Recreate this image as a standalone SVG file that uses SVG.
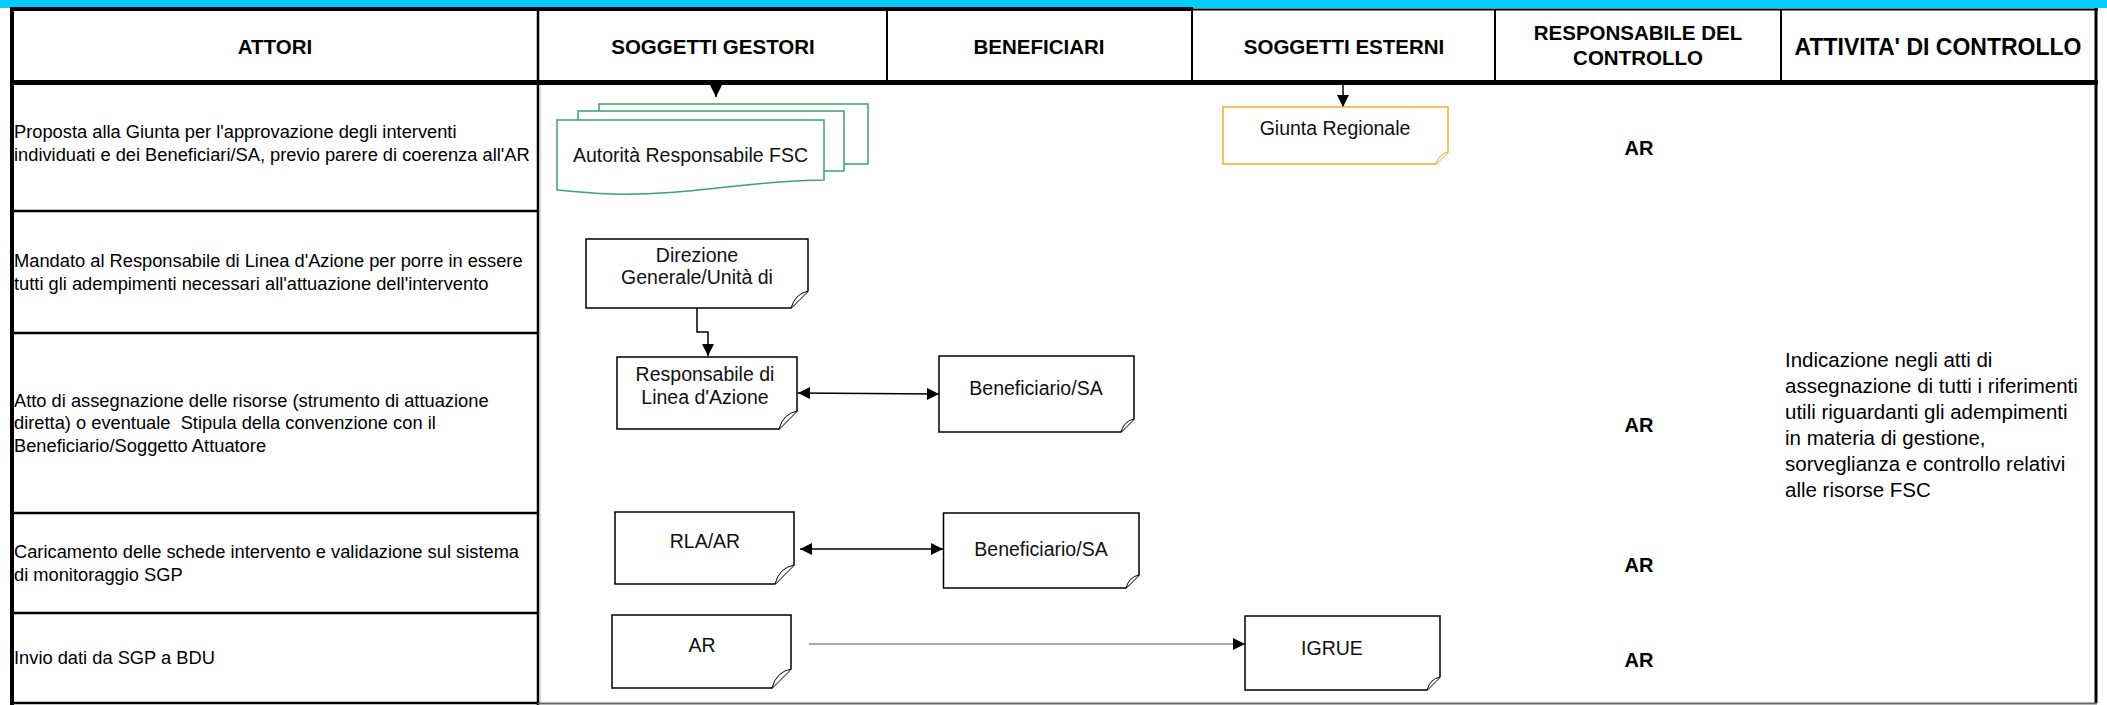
<svg xmlns="http://www.w3.org/2000/svg" width="2107" height="705" viewBox="0 0 2107 705">
<style>
.t{font-family:"Liberation Sans",Arial,sans-serif;fill:#000}
.lbl{font-size:18.3px}
.hdr{font-size:20.5px;font-weight:bold;text-anchor:middle}
.ar{font-size:20px;font-weight:bold;text-anchor:middle}
.ctl{font-size:20.5px}
.nt{font-size:19.5px;text-anchor:middle;fill:#111}
.box{fill:#fff;stroke:#000;stroke-width:1.5}
.fold{fill:#fff;stroke:#000;stroke-width:1}
.grid{stroke:#000;fill:none}
.con{fill:none;stroke:#000;stroke-width:1.5}
</style>
<defs>
<marker id="ah" viewBox="0 0 12 12" refX="12" refY="6" markerWidth="12" markerHeight="12" markerUnits="userSpaceOnUse" orient="auto-start-reverse">
<path d="M0,0 L12,6 L0,12 Z" fill="#000"/>
</marker>
</defs>
<rect width="2107" height="705" fill="#fff"/>
<g id="table">
<rect x="0" y="0" width="2107" height="8" fill="#00CCFF"/>
<line class="grid" x1="10" y1="9" x2="1193" y2="9" stroke-width="4"/>
<line class="grid" x1="1193" y1="9.5" x2="2098" y2="9.5" stroke-width="2"/>
<line class="grid" x1="10" y1="82.5" x2="2098" y2="82.5" stroke-width="5"/>
<line class="grid" x1="12" y1="7" x2="12" y2="705" stroke-width="4"/>
<line class="grid" x1="2096" y1="8" x2="2096" y2="703" stroke-width="3"/>
<line class="grid" x1="538" y1="10" x2="538" y2="705" stroke-width="2.5"/>
<line class="grid" x1="887" y1="10" x2="887" y2="81" stroke-width="2"/>
<line class="grid" x1="1192" y1="10" x2="1192" y2="81" stroke-width="2"/>
<line class="grid" x1="1495" y1="10" x2="1495" y2="81" stroke-width="2"/>
<line class="grid" x1="1781" y1="10" x2="1781" y2="81" stroke-width="2"/>
<line class="grid" x1="12" y1="211" x2="538" y2="211" stroke-width="2.5"/>
<line class="grid" x1="12" y1="333" x2="538" y2="333" stroke-width="2.5"/>
<line class="grid" x1="12" y1="513" x2="538" y2="513" stroke-width="2.5"/>
<line class="grid" x1="12" y1="613" x2="538" y2="613" stroke-width="2.5"/>
<line x1="540" y1="85" x2="540" y2="703" stroke="#c8c8c8" stroke-width="1.5"/>
<line class="grid" x1="12" y1="703" x2="538" y2="703" stroke-width="2.5"/>
<line x1="538" y1="703.5" x2="2097" y2="703.5" stroke="#666" stroke-width="2"/>
<text class="t hdr" x="275" y="53.8">ATTORI</text>
<text class="t hdr" x="713" y="53.8">SOGGETTI GESTORI</text>
<text class="t hdr" x="1039" y="53.8">BENEFICIARI</text>
<text class="t hdr" x="1344" y="53.8">SOGGETTI ESTERNI</text>
<text class="t hdr" x="1638" y="40.2">RESPONSABILE DEL</text>
<text class="t hdr" x="1638" y="64.7">CONTROLLO</text>
<text class="t hdr" x="1938" y="54.7" style="font-size:23px">ATTIVITA' DI CONTROLLO</text>
<text class="t lbl" x="14" y="138.2">Proposta alla Giunta per l'approvazione degli interventi</text>
<text class="t lbl" x="14" y="160.7">individuati e dei Beneficiari/SA, previo parere di coerenza all'AR</text>
<text class="t lbl" x="14" y="267.2">Mandato al Responsabile di Linea d'Azione per porre in essere</text>
<text class="t lbl" x="14" y="289.7">tutti gli adempimenti necessari all'attuazione dell'intervento</text>
<text class="t lbl" x="14" y="406.9">Atto di assegnazione delle risorse (strumento di attuazione</text>
<text class="t lbl" x="14" y="429.4" xml:space="preserve">diretta) o eventuale  Stipula della convenzione con il</text>
<text class="t lbl" x="14" y="451.9">Beneficiario/Soggetto Attuatore</text>
<text class="t lbl" x="14" y="558.2">Caricamento delle schede intervento e validazione sul sistema</text>
<text class="t lbl" x="14" y="580.7">di monitoraggio SGP</text>
<text class="t lbl" x="14" y="664.4">Invio dati da SGP a BDU</text>
<text class="t ar" x="1639" y="155.2">AR</text>
<text class="t ar" x="1639" y="432.2">AR</text>
<text class="t ar" x="1639" y="571.7">AR</text>
<text class="t ar" x="1639" y="667.2">AR</text>
<text class="t ctl" x="1785" y="367.2">Indicazione negli atti di</text>
<text class="t ctl" x="1785" y="393.2">assegnazione di tutti i riferimenti</text>
<text class="t ctl" x="1785" y="419.2">utili riguardanti gli adempimenti</text>
<text class="t ctl" x="1785" y="445.2">in materia di gestione,</text>
<text class="t ctl" x="1785" y="471.2">sorveglianza e controllo relativi</text>
<text class="t ctl" x="1785" y="497.2">alle risorse FSC</text>
</g>
<g id="connectors">
<line class="con" x1="716" y1="84" x2="716" y2="97" marker-end="url(#ah)"/>
<line class="con" x1="1343" y1="84" x2="1343" y2="107" marker-end="url(#ah)"/>
<path class="con" d="M697,308 V332 H708 V356" marker-end="url(#ah)"/>
<line class="con" x1="798" y1="393" x2="939" y2="394" marker-start="url(#ah)" marker-end="url(#ah)"/>
<line class="con" x1="800" y1="549" x2="943" y2="549" marker-start="url(#ah)" marker-end="url(#ah)"/>
<line x1="809" y1="644" x2="1245" y2="644" stroke="#555" stroke-width="1.2" marker-end="url(#ah)"/>
</g>
<g id="n-autorita">
<rect x="599" y="104" width="269" height="60" fill="#fff" stroke="#3BA36B" stroke-width="1.5"/>
<rect x="578" y="111" width="266" height="60" fill="#fff" stroke="#3BA36B" stroke-width="1.5"/>
<path d="M557,120 H824 V180 C740,181 690,196 612,194 C585,193 567,191 557,190 Z" fill="#fff" stroke="#3BA36B" stroke-width="1.5"/>
<text class="t nt" x="690.5" y="161.8">Autorità Responsabile FSC</text>
</g>
<g id="n-giunta">
<path d="M1223,107 H1448 V152 L1436,164 H1223 Z" fill="#fff" stroke="#F8A830" stroke-width="1.5"/>
<path d="M1436,164 Q1439,154 1448,152" fill="#fff" stroke="#F8A830" stroke-width="1"/>
<text class="t nt" x="1335" y="134.8">Giunta Regionale</text>
</g>
<g id="n-direzione">
<path class="box" d="M586,239 H808 V291 L791,308 H586 Z"/>
<path class="fold" d="M791,308 Q795,294 808,291"/>
<text class="t nt" x="697" y="261.8">Direzione</text>
<text class="t nt" x="697" y="283.8">Generale/Unità di</text>
</g>
<g id="n-rla">
<path class="box" d="M617,357 H797 V411 L779,429 H617 Z"/>
<path class="fold" d="M779,429 Q783,414 797,411"/>
<text class="t nt" x="705" y="380.8">Responsabile di</text>
<text class="t nt" x="705" y="403.8">Linea d'Azione</text>
</g>
<g id="n-benef1">
<path class="box" d="M939,356 H1134 V419 L1121,432 H939 Z" stroke-width="1.2"/>
<path class="fold" d="M1121,432 Q1124,421 1134,419"/>
<text class="t nt" x="1036" y="394.8">Beneficiario/SA</text>
</g>
<g id="n-rlaar">
<path class="box" d="M615,512 H794 V565 L775,584 H615 Z"/>
<path class="fold" d="M775,584 Q779,568 794,565"/>
<text class="t nt" x="705" y="548">RLA/AR</text>
</g>
<g id="n-benef2">
<path class="box" d="M943.5,513 H1139 V575 L1126,588 H943.5 Z" stroke-width="1.2"/>
<path class="fold" d="M1126,588 Q1129,577 1139,575"/>
<text class="t nt" x="1041" y="556">Beneficiario/SA</text>
</g>
<g id="n-ar">
<path class="box" d="M612,615 H791 V669 L772,688 H612 Z"/>
<path class="fold" d="M772,688 Q776,672 791,669"/>
<text class="t nt" x="702" y="652">AR</text>
</g>
<g id="n-igrue">
<path class="box" d="M1245,616 H1440 V677 L1427,690 H1245 Z" stroke-width="1.2"/>
<path class="fold" d="M1427,690 Q1430,679 1440,677"/>
<text class="t nt" x="1332" y="655">IGRUE</text>
</g>
</svg>
